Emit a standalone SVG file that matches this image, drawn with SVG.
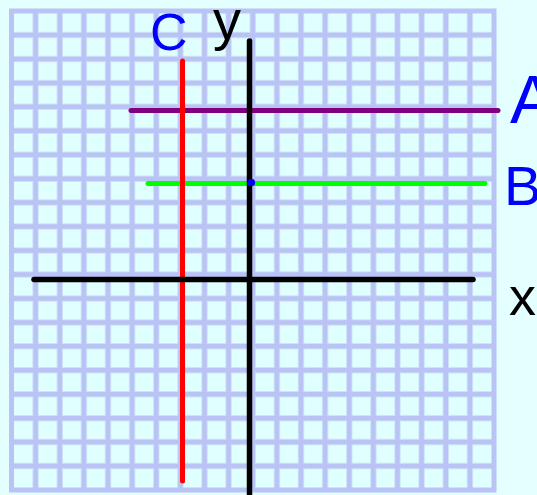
<svg xmlns="http://www.w3.org/2000/svg" width="537" height="495" viewBox="0 0 537 495">
  <style>
    .halo { fill: none; stroke: #cfe3f6; stroke-width: 6.5; }
    .grid { fill: none; stroke: #bac3f6; stroke-width: 4.5; }
    .axis { stroke: #000000; stroke-width: 5.5; stroke-linecap: round; fill: none; }
    .ln { stroke-width: 5; stroke-linecap: round; fill: none; }
    .hand { font-family: "Comic Sans MS", "Liberation Sans", "DejaVu Sans", sans-serif; fill: #0000ff; }
    .lab { font-family: "Liberation Sans", Arial, sans-serif; fill: #000000; }
  </style>
  <rect x="0" y="0" width="537" height="495" fill="#e4ffff"/>
  <g id="grid">
    <rect x="11.5" y="11" width="482.5" height="479" fill="#e0ffff"/>
    <path class="halo" d="M35.6 11V490M59.8 11V490M83.9 11V490M108 11V490M132.1 11V490M156.3 11V490M180.4 11V490M204.5 11V490M228.6 11V490M252.8 11V490M276.9 11V490M301 11V490M325.1 11V490M349.3 11V490M373.4 11V490M397.5 11V490M421.6 11V490M445.8 11V490M469.9 11V490M11.5 35H494M11.5 58.9H494M11.5 82.9H494M11.5 106.8H494M11.5 130.8H494M11.5 154.7H494M11.5 178.7H494M11.5 202.6H494M11.5 226.6H494M11.5 250.5H494M11.5 274.5H494M11.5 298.4H494M11.5 322.4H494M11.5 346.3H494M11.5 370.3H494M11.5 394.2H494M11.5 418.2H494M11.5 442.1H494M11.5 466.1H494"/>
    <path class="grid" d="M35.6 11V490M59.8 11V490M83.9 11V490M108 11V490M132.1 11V490M156.3 11V490M180.4 11V490M204.5 11V490M228.6 11V490M252.8 11V490M276.9 11V490M301 11V490M325.1 11V490M349.3 11V490M373.4 11V490M397.5 11V490M421.6 11V490M445.8 11V490M469.9 11V490M11.5 35H494M11.5 58.9H494M11.5 82.9H494M11.5 106.8H494M11.5 130.8H494M11.5 154.7H494M11.5 178.7H494M11.5 202.6H494M11.5 226.6H494M11.5 250.5H494M11.5 274.5H494M11.5 298.4H494M11.5 322.4H494M11.5 346.3H494M11.5 370.3H494M11.5 394.2H494M11.5 418.2H494M11.5 442.1H494M11.5 466.1H494"/>
    <rect x="11.5" y="11" width="482.5" height="479" fill="none" stroke="#bac3f6" stroke-width="5"/>
  </g>
  <g id="lines">
    <line id="lineA" class="ln" x1="131" y1="110.5" x2="498" y2="110.5" stroke="#800080"/>
    <line id="lineB" class="ln" x1="148" y1="183.5" x2="485" y2="183.5" stroke="#00ff00"/>
    <line id="lineC" class="ln" x1="182.5" y1="61" x2="182.5" y2="481" stroke="#ff0000"/>
    <line id="xaxis" class="axis" x1="34" y1="279.5" x2="473" y2="279.5"/>
    <line id="yaxis" class="axis" x1="249.5" y1="41" x2="249.5" y2="500"/>
    <circle id="point" cx="251.3" cy="182.5" r="3.8" fill="#0000ff"/>
  </g>
  <g id="labels">
    <text class="lab" x="213" y="39" font-size="56">y</text>
    <text class="lab" x="509" y="315" font-size="54">x</text>
    <text class="hand" x="150" y="50" font-size="52">C</text>
    <text class="hand" x="510" y="123" font-size="68">A</text>
    <text class="hand" x="504" y="205" font-size="56">B</text>
  </g>
</svg>
